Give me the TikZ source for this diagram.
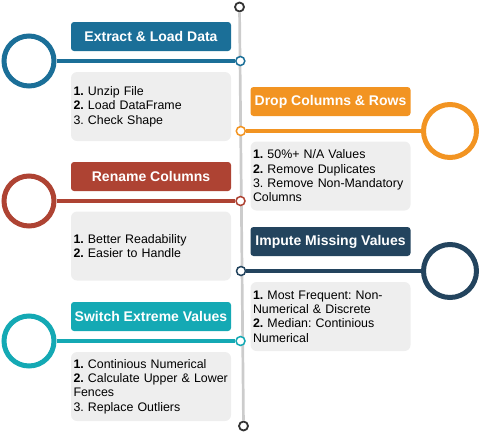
\documentclass[tikz,border=0pt]{standalone}
\usepackage{fontspec}
\setmainfont{Liberation Sans}
\frenchspacing
\definecolor{stepblue}{HTML}{1B6F98}
\definecolor{steporange}{HTML}{F29422}
\definecolor{stepred}{HTML}{AE4333}
\definecolor{stepnavy}{HTML}{23445E}
\definecolor{stepteal}{HTML}{14A9B4}
\definecolor{linegray}{HTML}{CCCCCC}
\definecolor{boxgray}{HTML}{EEEEEE}
\definecolor{capgray}{HTML}{333333}
\tikzset{
  headbox/.style={rectangle, rounded corners=3, minimum width=160, minimum height=29,
    inner sep=0, text=white, font=\bfseries\fontsize{14}{16}\selectfont},
  listbox/.style={rectangle, rounded corners=6, fill=boxgray, text width=155,
    minimum height=69, inner xsep=2.5, inner ysep=0, align=left,
    font=\fontsize{12.4}{14.3}\selectfont},
  leftring/.style={circle, line width=5, minimum size=50, inner sep=0},
  rightring/.style={circle, line width=5, minimum size=53, inner sep=0},
  joint/.style={circle, line width=1.5, fill=white, minimum size=9, inner sep=0},
  endcap/.style={circle, line width=1.8, draw=capgray, fill=white, minimum size=9, inner sep=0},
  link/.style={line width=3.5},
}
\begin{document}
\begin{tikzpicture}[x=1pt,y=-1pt]
  \useasboundingbox (0,0) rectangle (481,434);
  % timeline
  \node[endcap] (top) at (239.5,7) {};
  \node[endcap] (bottom) at (243.5,426) {};
  \draw[line width=2.7, linegray] (top) -- (bottom);

  % extract & load
  \node[headbox, fill=stepblue] (head1) at (151,36.5) {Extract \& Load Data};
  \node[listbox] (list1) at (151,106.5) {\textbf{1.} Unzip File\\\textbf{2.} Load DataFrame\\3. Check Shape};
  \node[leftring, draw=stepblue] (ring1) at (29,61) {};
  \node[joint, draw=stepblue] (dot1) at (240.3,61) {};
  \draw[link, stepblue] (ring1) -- (dot1);

  % drop columns & rows
  \node[headbox, fill=steporange] (head2) at (330.5,101.5) {Drop Columns \& Rows};
  \node[listbox] (list2) at (330.5,176) {\textbf{1.} 50\%+ N/A Values\\\textbf{2.} Remove Duplicates\\3. Remove Non-Mandatory\\Columns};
  \node[rightring, draw=steporange] (ring2) at (450,131) {};
  \node[joint, draw=steporange] (dot2) at (240.8,131) {};
  \draw[link, steporange] (dot2) -- (ring2);

  % rename columns
  \node[headbox, fill=stepred] (head3) at (151,176.5) {Rename Columns};
  \node[listbox] (list3) at (151,246) {\textbf{1.} Better Readability\\\textbf{2.} Easier to Handle};
  \node[leftring, draw=stepred] (ring3) at (29,201) {};
  \node[joint, draw=stepred] (dot3) at (240.5,201) {};
  \draw[link, stepred] (ring3) -- (dot3);

  % impute missing values
  \node[headbox, fill=stepnavy] (head4) at (330.5,241.5) {Impute Missing Values};
  \node[listbox] (list4) at (330.5,316.5) {\textbf{1.} Most Frequent: Non-\\Numerical \& Discrete\\\textbf{2.} Median: Continious\\Numerical};
  \node[rightring, draw=stepnavy] (ring4) at (450,271) {};
  \node[joint, draw=stepnavy] (dot4) at (241,271) {};
  \draw[link, stepnavy] (dot4) -- (ring4);

  % switch extreme values
  \node[headbox, fill=stepteal] (head5) at (151,316.5) {Switch Extreme Values};
  \node[listbox] (list5) at (151,386.5) {\textbf{1.} Continious Numerical\\\textbf{2.} Calculate Upper \& Lower\\Fences\\3. Replace Outliers};
  \node[leftring, draw=stepteal] (ring5) at (29,341) {};
  \node[joint, draw=stepteal] (dot5) at (240.5,341) {};
  \draw[link, stepteal] (ring5) -- (dot5);
\end{tikzpicture}
\end{document}
